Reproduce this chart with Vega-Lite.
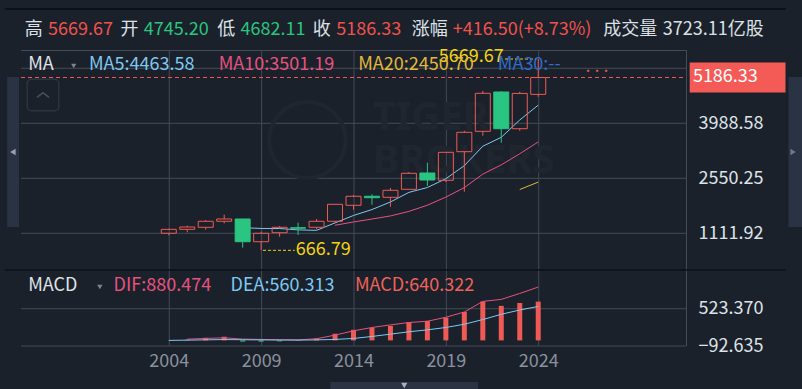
{
  "$schema": "https://vega.github.io/schema/vega-lite/v6.json",
  "width": 675,
  "height": 296,
  "autosize": {"type": "none"},
  "padding": {"left": 16, "top": 50, "right": 111, "bottom": 43},
  "background": "#1a212b",
  "config": {
    "view": {"stroke": null},
    "font": "Noto Sans CJK SC",
    "text": {"font": "Noto Sans CJK SC"},
    "axis": {"labelFont": "Noto Sans CJK SC", "grid": false, "domain": false, "ticks": false, "tickSize": 0, "title": null}
  },
  "datasets": {
    "k": [
      {"year": 2004, "open": 1112, "high": 1235, "low": 1060, "close": 1215, "ma5": null, "ma10": null, "ma20": null, "dif": null, "dea": 0, "macd": null},
      {"year": 2005, "open": 1216, "high": 1311, "low": 1138, "close": 1277, "ma5": null, "ma10": null, "ma20": null, "dif": 21, "dea": 4, "macd": 12},
      {"year": 2006, "open": 1269, "high": 1460, "low": 1206, "close": 1426, "ma5": null, "ma10": null, "ma20": null, "dif": 32, "dea": 9, "macd": 43},
      {"year": 2007, "open": 1426, "high": 1598, "low": 1373, "close": 1486, "ma5": null, "ma10": null, "ma20": null, "dif": 43, "dea": 14, "macd": 60},
      {"year": 2008, "open": 1486, "high": 1492, "low": 735, "close": 892, "ma5": 1259, "ma10": null, "ma20": null, "dif": 21, "dea": 11, "macd": -20},
      {"year": 2009, "open": 892, "high": 1154, "low": 666.79, "close": 1112, "ma5": 1239, "ma10": null, "ma20": null, "dif": 16, "dea": 8, "macd": -20},
      {"year": 2010, "open": 1127, "high": 1303, "low": 1023, "close": 1269, "ma5": 1237, "ma10": null, "ma20": null, "dif": 11, "dea": 6, "macd": -16},
      {"year": 2011, "open": 1258, "high": 1389, "low": 1067, "close": 1245, "ma5": 1201, "ma10": null, "ma20": null, "dif": 8, "dea": 5, "macd": -8},
      {"year": 2012, "open": 1269, "high": 1486, "low": 1216, "close": 1426, "ma5": 1189, "ma10": null, "ma20": null, "dif": 27, "dea": 8, "macd": 32},
      {"year": 2013, "open": 1426, "high": 1875, "low": 1381, "close": 1870, "ma5": 1384, "ma10": 1322, "ma20": null, "dif": 87, "dea": 16, "macd": 109},
      {"year": 2014, "open": 1844, "high": 2114, "low": 1729, "close": 2080, "ma5": 1578, "ma10": 1408, "ma20": null, "dif": 158, "dea": 32, "macd": 174},
      {"year": 2015, "open": 2080, "high": 2132, "low": 1860, "close": 2043, "ma5": 1733, "ma10": 1485, "ma20": null, "dif": 213, "dea": 65, "macd": 207},
      {"year": 2016, "open": 2053, "high": 2297, "low": 1808, "close": 2236, "ma5": 1931, "ma10": 1566, "ma20": null, "dif": 256, "dea": 103, "macd": 240},
      {"year": 2017, "open": 2262, "high": 2715, "low": 2252, "close": 2681, "ma5": 2182, "ma10": 1685, "ma20": null, "dif": 295, "dea": 142, "macd": 302},
      {"year": 2018, "open": 2689, "high": 2958, "low": 2349, "close": 2506, "ma5": 2309, "ma10": 1847, "ma20": null, "dif": 316, "dea": 174, "macd": 322},
      {"year": 2019, "open": 2498, "high": 3235, "low": 2453, "close": 3230, "ma5": 2539, "ma10": 2059, "ma20": null, "dif": 382, "dea": 213, "macd": 375},
      {"year": 2020, "open": 3246, "high": 3795, "low": 2200, "close": 3753, "ma5": 2881, "ma10": 2307, "ma20": null, "dif": 469, "dea": 267, "macd": 469},
      {"year": 2021, "open": 3779, "high": 4833, "low": 3664, "close": 4773, "ma5": 3389, "ma10": 2660, "ma20": null, "dif": 644, "dea": 344, "macd": 641},
      {"year": 2022, "open": 4807, "high": 4833, "low": 3481, "close": 3847, "ma5": 3622, "ma10": 2902, "ma20": null, "dif": 677, "dea": 431, "macd": 570},
      {"year": 2023, "open": 3847, "high": 4815, "low": 3795, "close": 4769.83, "ma5": 4075, "ma10": 3192, "ma20": 2257, "dif": 775, "dea": 502, "macd": 618},
      {"year": 2024, "open": 4745.20, "high": 5669.67, "low": 4682.11, "close": 5186.33, "ma5": 4463.58, "ma10": 3501.19, "ma20": 2450.70, "dif": 880.474, "dea": 560.313, "macd": 640.322}
    ]
  },
  "data": {"name": "k"},
  "layer": [
    {
      "layer": [
        {"data": {"values": [{}]}, "mark": {"type": "rule", "color": "#434b57", "strokeWidth": 1, "yOffset": 0.5},
         "encoding": {
           "x": {"datum": 1996, "type": "quantitative", "scale": {"domain": [1996, 2032], "nice": false, "zero": false},
                 "axis": {"orient": "bottom", "title": null, "values": [2004, 2009, 2014, 2019, 2024], "format": "d", "labelColor": "#8a919c", "labelFontSize": 18, "labelPadding": 6, "grid": false, "labelOverlap": false, "labelFlush": false, "labelBound": false}},
           "x2": {"datum": 2032},
           "y": {"datum": 5905.5, "type": "quantitative", "scale": {"domain": [152.1, 5905.5], "range": [220, 0], "nice": false, "zero": false},
                 "axis": {"orient": "right", "title": null, "values": [1111.92, 2550.25, 3988.58], "format": ".2f", "labelColor": "#dfe3e8", "labelFontSize": 18, "labelAlign": "left", "labelBaseline": "middle", "labelPadding": 7, "grid": false, "labelOverlap": false, "labelFlush": false, "labelBound": false}}
         }},
        {"data": {"values": [{}]}, "mark": {"type": "rule", "color": "#434b57", "strokeWidth": 1},
         "encoding": {"x": {"datum": 1996}, "x2": {"datum": 2032}, "y": {"datum": 5426.91}}},
        {"data": {"values": [{}]}, "mark": {"type": "rule", "color": "#434b57", "strokeWidth": 1},
         "encoding": {"x": {"datum": 1996}, "x2": {"datum": 2032}, "y": {"datum": 3988.58}}},
        {"data": {"values": [{}]}, "mark": {"type": "rule", "color": "#434b57", "strokeWidth": 1},
         "encoding": {"x": {"datum": 1996}, "x2": {"datum": 2032}, "y": {"datum": 2550.25}}},
        {"data": {"values": [{}]}, "mark": {"type": "rule", "color": "#434b57", "strokeWidth": 1},
         "encoding": {"x": {"datum": 1996}, "x2": {"datum": 2032}, "y": {"datum": 1111.92}}},
        {"data": {"values": [{}]}, "mark": {"type": "rule", "color": "#434b57", "strokeWidth": 1, "xOffset": 0.5},
         "encoding": {"x": {"datum": 2004}, "y": {"datum": 5905.5}, "y2": {"datum": -1835.4}}},
        {"data": {"values": [{}]}, "mark": {"type": "rule", "color": "#434b57", "strokeWidth": 1, "xOffset": 0.5},
         "encoding": {"x": {"datum": 2009}, "y": {"datum": 5905.5}, "y2": {"datum": -1835.4}}},
        {"data": {"values": [{}]}, "mark": {"type": "rule", "color": "#434b57", "strokeWidth": 1, "xOffset": 0.5},
         "encoding": {"x": {"datum": 2014}, "y": {"datum": 5905.5}, "y2": {"datum": -1835.4}}},
        {"data": {"values": [{}]}, "mark": {"type": "rule", "color": "#434b57", "strokeWidth": 1, "xOffset": 0.5},
         "encoding": {"x": {"datum": 2019}, "y": {"datum": 5905.5}, "y2": {"datum": -1835.4}}},
        {"data": {"values": [{}]}, "mark": {"type": "rule", "color": "#434b57", "strokeWidth": 1, "xOffset": 0.5},
         "encoding": {"x": {"datum": 2024}, "y": {"datum": 5905.5}, "y2": {"datum": -1835.4}}},
        {"data": {"values": [{}]}, "mark": {"type": "rule", "color": "#434b57", "strokeWidth": 1, "xOffset": 0.5},
         "encoding": {"x": {"datum": 2032}, "y": {"datum": 5905.5}, "y2": {"datum": -1835.4}}},

        {"data": {"values": [{}]}, "mark": {"type": "text", "text": "TIGER", "font": "Noto Sans", "fontSize": 40, "fontWeight": "bold", "color": "#20262f", "align": "left", "baseline": "middle"},
         "encoding": {"x": {"datum": 2015.04}, "y": {"datum": 4127.2}}},
        {"data": {"values": [{}]}, "mark": {"type": "text", "text": "BROKERS", "font": "Noto Sans", "fontSize": 40, "fontWeight": "bold", "color": "#20262f", "align": "left", "baseline": "middle"},
         "encoding": {"x": {"datum": 2015.04}, "y": {"datum": 3002.6}}},
        {"data": {"values": [{}]}, "mark": {"type": "point", "shape": "circle", "size": 5809, "filled": false, "stroke": "#20262f", "strokeWidth": 4, "opacity": 1},
         "encoding": {"x": {"datum": 2011.504}, "y": {"datum": 3551.8}}},
        {"mark": {"type": "line", "color": "#7ec8f2", "strokeWidth": 1},
         "encoding": {"x": {"field": "year", "type": "quantitative"}, "y": {"field": "ma5", "type": "quantitative"}}},
        {"mark": {"type": "line", "color": "#e7527f", "strokeWidth": 1},
         "encoding": {"x": {"field": "year", "type": "quantitative"}, "y": {"field": "ma10", "type": "quantitative"}}},
        {"mark": {"type": "line", "color": "#e3b83b", "strokeWidth": 1},
         "encoding": {"x": {"field": "year", "type": "quantitative"}, "y": {"field": "ma20", "type": "quantitative"}}},
        {"mark": {"type": "rule", "strokeWidth": 1},
         "encoding": {"x": {"field": "year", "type": "quantitative"}, "y": {"field": "high", "type": "quantitative"}, "y2": {"field": "close"},
           "color": {"condition": {"test": "datum.close < datum.open", "value": "#2ac580"}, "value": "#f05a55"}}},
        {"mark": {"type": "rule", "strokeWidth": 1},
         "encoding": {"x": {"field": "year", "type": "quantitative"}, "y": {"field": "open", "type": "quantitative"}, "y2": {"field": "low"},
           "color": {"condition": {"test": "datum.close < datum.open", "value": "#2ac580"}, "value": "#f05a55"}}},
        {"mark": {"type": "bar", "width": 15, "strokeWidth": 1},
         "encoding": {"x": {"field": "year", "type": "quantitative"}, "y": {"field": "open", "type": "quantitative"}, "y2": {"field": "close"},
           "fill": {"condition": {"test": "datum.close < datum.open", "value": "#2ac580"}, "value": "transparent"},
           "stroke": {"condition": {"test": "datum.close < datum.open", "value": "#2ac580"}, "value": "#f05a55"}}},
        {"transform": [{"filter": "datum.year == 2024"}], "mark": {"type": "rule", "color": "#f05a55", "strokeWidth": 1, "strokeDash": [4, 3]},
         "encoding": {"x": {"datum": 1996}, "x2": {"datum": 2032}, "y": {"field": "close", "type": "quantitative"}}},
        {"transform": [{"filter": "datum.year == 2024"}], "mark": {"type": "rule", "color": "#f2d40f", "strokeWidth": 1, "strokeDash": [3, 2]},
         "encoding": {"x": {"datum": 2022.2}, "x2": {"datum": 2023.9}, "y": {"field": "high", "type": "quantitative"}}},
        {"transform": [{"filter": "datum.year == 2024"}], "mark": {"type": "text", "color": "#f2d40f", "fontSize": 18, "align": "right", "baseline": "middle", "dy": -2},
         "encoding": {"x": {"datum": 2022.133}, "y": {"field": "high", "type": "quantitative"}, "text": {"field": "high", "format": ".2f"}}},
        {"transform": [{"filter": "datum.year == 2009"}], "mark": {"type": "rule", "color": "#f2d40f", "strokeWidth": 1, "strokeDash": [3, 2]},
         "encoding": {"x": {"datum": 2009.1}, "x2": {"datum": 2010.82}, "y": {"field": "low", "type": "quantitative"}}},
        {"transform": [{"filter": "datum.year == 2009"}], "mark": {"type": "text", "color": "#f2d40f", "fontSize": 18, "align": "left", "baseline": "middle"},
         "encoding": {"x": {"datum": 2010.88}, "y": {"field": "low", "type": "quantitative"}, "text": {"field": "low", "format": ".2f"}}},
        {"data": {"values": [{}]}, "mark": {"type": "rect", "color": "#f45b57"},
         "encoding": {"x": {"datum": 2032.2}, "x2": {"datum": 2037.387}, "y": {"datum": 5578.6}, "y2": {"datum": 4794.0}}},
        {"transform": [{"filter": "datum.year == 2024"}], "mark": {"type": "text", "color": "#ffffff", "fontSize": 18, "align": "left", "baseline": "middle"},
         "encoding": {"x": {"datum": 2032.373}, "y": {"field": "close", "type": "quantitative"}, "text": {"field": "close", "format": ".2f"}}},

        {"data": {"values": [{}]}, "mark": {"type": "rule", "color": "#0d1116", "strokeWidth": 2},
         "encoding": {"x": {"datum": 1995.147}, "x2": {"datum": 2037.4}, "y": {"datum": 6977.7}}},
        {"data": {"values": [{}]}, "mark": {"type": "rule", "color": "#0d1116", "strokeWidth": 1.5},
         "encoding": {"x": {"datum": 1995.147}, "x2": {"datum": 2037.4}, "y": {"datum": 152.1}}},
        {"data": {"values": [{}]}, "mark": {"type": "rect", "color": "#2a3343"},
         "encoding": {"x": {"datum": 1995.253}, "x2": {"datum": 1995.893}, "y": {"datum": 5199.4}, "y2": {"datum": 1276.6}}},
        {"data": {"values": [{}]}, "mark": {"type": "rect", "color": "#2a3343"},
         "encoding": {"x": {"datum": 2037.547}, "x2": {"datum": 2038.3}, "y": {"datum": 5199.4}, "y2": {"datum": 1276.6}}},
        {"data": {"values": [{}]}, "mark": {"type": "point", "shape": "triangle-left", "size": 40, "filled": true, "color": "#9aa1ab", "opacity": 1},
         "encoding": {"x": {"datum": 1995.56}, "y": {"datum": 3238.0}}},
        {"data": {"values": [{}]}, "mark": {"type": "point", "shape": "triangle-right", "size": 40, "filled": true, "color": "#6f7784", "opacity": 1},
         "encoding": {"x": {"datum": 2037.8}, "y": {"datum": 3238.0}}},
        {"data": {"values": [{}]}, "mark": {"type": "rect", "fill": "transparent", "stroke": "#2c3440", "strokeWidth": 1.5, "cornerRadius": 4},
         "encoding": {"x": {"datum": 1996.336}, "x2": {"datum": 1998.043}, "y": {"datum": 5139.2}, "y2": {"datum": 4318.1}}},
        {"data": {"values": [{}]}, "mark": {"type": "point", "shape": "M-1,0.4L0,-0.4L1,0.4", "size": 144, "filled": false, "stroke": "#48505c", "strokeWidth": 1.5, "opacity": 1},
         "encoding": {"x": {"datum": 1997.189}, "y": {"datum": 4728.7}}},

        {"data": {"values": [{}]}, "mark": {"type": "text", "text": "高", "fontSize": 18, "color": "#dde1e6", "align": "left", "baseline": "middle"},
         "encoding": {"x": {"datum": 1996.2}, "y": {"datum": 6441.6}}},
        {"transform": [{"filter": "datum.year == 2024"}], "mark": {"type": "text", "fontSize": 18, "color": "#f0524c", "align": "left", "baseline": "middle"},
         "encoding": {"x": {"datum": 1997.467}, "y": {"datum": 6441.6}, "text": {"field": "high", "format": ".2f"}}},
        {"data": {"values": [{}]}, "mark": {"type": "text", "text": "开", "fontSize": 18, "color": "#dde1e6", "align": "left", "baseline": "middle"},
         "encoding": {"x": {"datum": 2001.38}, "y": {"datum": 6441.6}}},
        {"transform": [{"filter": "datum.year == 2024"}], "mark": {"type": "text", "fontSize": 18, "color": "#2ac580", "align": "left", "baseline": "middle"},
         "encoding": {"x": {"datum": 2002.651}, "y": {"datum": 6441.6}, "text": {"field": "open", "format": ".2f"}}},
        {"data": {"values": [{}]}, "mark": {"type": "text", "text": "低", "fontSize": 18, "color": "#dde1e6", "align": "left", "baseline": "middle"},
         "encoding": {"x": {"datum": 2006.62}, "y": {"datum": 6441.6}}},
        {"transform": [{"filter": "datum.year == 2024"}], "mark": {"type": "text", "fontSize": 18, "color": "#2ac580", "align": "left", "baseline": "middle"},
         "encoding": {"x": {"datum": 2007.888}, "y": {"datum": 6441.6}, "text": {"field": "low", "format": ".2f"}}},
        {"data": {"values": [{}]}, "mark": {"type": "text", "text": "收", "fontSize": 18, "color": "#dde1e6", "align": "left", "baseline": "middle"},
         "encoding": {"x": {"datum": 2011.8}, "y": {"datum": 6441.6}}},
        {"transform": [{"filter": "datum.year == 2024"}], "mark": {"type": "text", "fontSize": 18, "color": "#f0524c", "align": "left", "baseline": "middle"},
         "encoding": {"x": {"datum": 2013.067}, "y": {"datum": 6441.6}, "text": {"field": "close", "format": ".2f"}}},
        {"data": {"values": [{}]}, "mark": {"type": "text", "text": "涨幅", "fontSize": 18, "color": "#dde1e6", "align": "left", "baseline": "middle"},
         "encoding": {"x": {"datum": 2017.15}, "y": {"datum": 6441.6}}},
        {"data": {"values": [{}]}, "mark": {"type": "text", "text": "+416.50(+8.73%)", "fontSize": 18, "color": "#f0524c", "align": "left", "baseline": "middle"},
         "encoding": {"x": {"datum": 2019.371}, "y": {"datum": 6441.6}}},
        {"data": {"values": [{}]}, "mark": {"type": "text", "text": "成交量", "fontSize": 18, "color": "#dde1e6", "align": "left", "baseline": "middle"},
         "encoding": {"x": {"datum": 2027.52}, "y": {"datum": 6441.6}}},
        {"data": {"values": [{}]}, "mark": {"type": "text", "text": "3723.11亿股", "fontSize": 18, "color": "#dde1e6", "align": "left", "baseline": "middle"},
         "encoding": {"x": {"datum": 2030.747}, "y": {"datum": 6441.6}}},

        {"data": {"values": [{}]}, "mark": {"type": "text", "text": "MA", "fontSize": 18, "color": "#e0e3e8", "align": "left", "baseline": "middle"},
         "encoding": {"x": {"datum": 1996.389}, "y": {"datum": 5513.2}}},
        {"data": {"values": [{}]}, "mark": {"type": "point", "shape": "triangle-down", "size": 28, "filled": true, "color": "#7d848f", "opacity": 1},
         "encoding": {"x": {"datum": 1998.853}, "y": {"datum": 5487.1}}},
        {"data": {"values": [{}]}, "mark": {"type": "text", "text": "MA5:4463.58", "fontSize": 18, "color": "#7ec8f2", "align": "left", "baseline": "middle"},
         "encoding": {"x": {"datum": 1999.68}, "y": {"datum": 5513.2}}},
        {"data": {"values": [{}]}, "mark": {"type": "text", "text": "MA10:3501.19", "fontSize": 18, "color": "#e7527f", "align": "left", "baseline": "middle"},
         "encoding": {"x": {"datum": 2006.704}, "y": {"datum": 5513.2}}},
        {"data": {"values": [{}]}, "mark": {"type": "text", "text": "MA20:2450.70", "fontSize": 18, "color": "#e3b83b", "align": "left", "baseline": "middle"},
         "encoding": {"x": {"datum": 2014.256}, "y": {"datum": 5513.2}}},
        {"data": {"values": [{}]}, "mark": {"type": "text", "text": "MA30:--", "fontSize": 18, "color": "#2f6ccc", "align": "left", "baseline": "middle"},
         "encoding": {"x": {"datum": 2021.813}, "y": {"datum": 5513.2}}},
        {"data": {"values": [{}]}, "mark": {"type": "text", "text": "···", "fontSize": 9, "fontWeight": "bold", "color": "#f05a55", "align": "left", "baseline": "middle"},
         "encoding": {"x": {"datum": 2026.45}, "y": {"datum": 5364.2}}}
      ]
    },
    {
      "layer": [
        {"data": {"values": [{}]}, "mark": {"type": "rule", "color": "#434b57", "strokeWidth": 1},
         "encoding": {
           "x": {"datum": 1996}, "x2": {"datum": 2032},
           "y": {"datum": 523.37, "type": "quantitative", "scale": {"domain": [-92.635, 1162.5], "range": [296, 220], "nice": false, "zero": false},
                 "axis": {"orient": "right", "title": null, "values": [-92.635, 523.37], "format": ".3f", "labelColor": "#dfe3e8", "labelFontSize": 18, "labelAlign": "left", "labelBaseline": "middle", "labelPadding": 7, "grid": false, "labelOverlap": false, "labelFlush": false, "labelBound": false}}
         }},
        {"data": {"values": [{}]}, "mark": {"type": "rule", "color": "#434b57", "strokeWidth": 1},
         "encoding": {"x": {"datum": 1996}, "x2": {"datum": 2032}, "y": {"datum": -92.635}}},
        {"mark": {"type": "bar", "width": 5},
         "encoding": {
           "x": {"field": "year", "type": "quantitative"},
           "y": {"field": "macd", "type": "quantitative"},
           "y2": {"datum": 0},
           "color": {"condition": {"test": "datum.macd < 0", "value": "#2ac580"}, "value": "#f05a55"}
         }},
        {"mark": {"type": "line", "color": "#e7527f", "strokeWidth": 1},
         "encoding": {"x": {"field": "year", "type": "quantitative"}, "y": {"field": "dif", "type": "quantitative"}}},
        {"mark": {"type": "line", "color": "#7ec8f2", "strokeWidth": 1},
         "encoding": {"x": {"field": "year", "type": "quantitative"}, "y": {"field": "dea", "type": "quantitative"}}},
        {"data": {"values": [{}]}, "mark": {"type": "text", "text": "MACD", "fontSize": 18, "color": "#e0e3e8", "align": "left", "baseline": "middle"},
         "encoding": {"x": {"datum": 1996.389}, "y": {"datum": 898.3}}},
        {"data": {"values": [{}]}, "mark": {"type": "point", "shape": "triangle-down", "size": 28, "filled": true, "color": "#7d848f", "opacity": 1},
         "encoding": {"x": {"datum": 2000.267}, "y": {"datum": 881.8}}},
        {"data": {"values": [{}]}, "mark": {"type": "text", "text": "DIF:880.474", "fontSize": 18, "color": "#e7527f", "align": "left", "baseline": "middle"},
         "encoding": {"x": {"datum": 2001.013}, "y": {"datum": 898.3}}},
        {"data": {"values": [{}]}, "mark": {"type": "text", "text": "DEA:560.313", "fontSize": 18, "color": "#7ec8f2", "align": "left", "baseline": "middle"},
         "encoding": {"x": {"datum": 2007.344}, "y": {"datum": 898.3}}},
        {"data": {"values": [{}]}, "mark": {"type": "text", "text": "MACD:640.322", "fontSize": 18, "color": "#f0615a", "align": "left", "baseline": "middle"},
         "encoding": {"x": {"datum": 2014.08}, "y": {"datum": 898.3}}},
        {"data": {"values": [{}]}, "mark": {"type": "rect", "color": "#2c3444"},
         "encoding": {"x": {"datum": 2012.747}, "x2": {"datum": 2020.747}, "y": {"datum": -687.2}, "y2": {"datum": -850}}},
        {"data": {"values": [{}]}, "mark": {"type": "point", "shape": "triangle-down", "size": 40, "filled": true, "color": "#aab0b9", "opacity": 1},
         "encoding": {"x": {"datum": 2016.747}, "y": {"datum": -745}}}
      ]
    }
  ],
  "resolve": {"scale": {"y": "independent"}}
}
